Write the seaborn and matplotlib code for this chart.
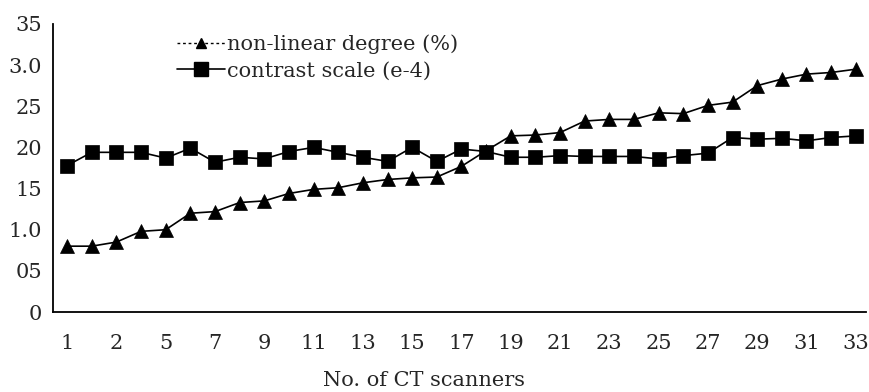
import matplotlib
matplotlib.use("Agg")
import matplotlib.pyplot as plt
import seaborn as sns
import pandas as pd
from matplotlib.lines import Line2D

scanners = list(range(1, 34))
nonlinear = [0.80, 0.80, 0.85, 0.98, 1.00, 1.20, 1.22, 1.33, 1.35, 1.44,
             1.49, 1.51, 1.57, 1.61, 1.63, 1.64, 1.77, 1.96, 2.14, 2.15,
             2.18, 2.32, 2.34, 2.34, 2.42, 2.41, 2.51, 2.55, 2.75, 2.83,
             2.89, 2.91, 2.95]
contrast = [1.78, 1.94, 1.94, 1.94, 1.87, 1.99, 1.82, 1.88, 1.86, 1.95,
            2.00, 1.94, 1.88, 1.83, 2.00, 1.83, 1.98, 1.95, 1.88, 1.88,
            1.90, 1.89, 1.89, 1.89, 1.86, 1.90, 1.93, 2.12, 2.10, 2.11,
            2.08, 2.12, 2.14]
xtick_pos = [1, 3, 5, 7, 9, 11, 13, 15, 17, 19, 21, 23, 25, 27, 29, 31, 33]
xtick_labels = ["1", "2", "5", "7", "9", "11", "13", "15", "17", "19", "21",
                "23", "25", "27", "29", "31", "33"]
ytick_pos = [0, 0.5, 1.0, 1.5, 2.0, 2.5, 3.0, 3.5]
ytick_labels = ["0", "05", "1.0", "15", "20", "25", "3.0", "35"]
series_names = ["non-linear degree (%)", "contrast scale (e-4)"]

df = pd.DataFrame({"x": scanners, "nl": nonlinear, "cs": contrast})

sns.set_style("white")
plt.rcParams["font.family"] = ["DejaVu Serif", "Liberation Serif"]

fig = plt.figure(figsize=(8.7, 3.92), dpi=100)
ax = fig.add_axes([0.061, 0.204, 0.934, 0.735])

sns.lineplot(data=df, x="x", y="nl", ax=ax, color="black", lw=1.2,
             marker="^", markersize=10, markeredgecolor="black", mew=0.5)
sns.lineplot(data=df, x="x", y="cs", ax=ax, color="black", lw=1.2,
             marker="s", markersize=10, markeredgecolor="black", mew=0.5)

ax.set_xlim(0.43, 33.4)
ax.set_ylim(0, 3.5)
ax.set_xticks(scanners, minor=True)
ax.set_xticks(xtick_pos)
ax.set_xticklabels(xtick_labels, fontsize=15)
ax.set_yticks(ytick_pos)
ax.set_yticklabels(ytick_labels, fontsize=15)
ax.tick_params(axis="x", which="both", direction="in", length=4, width=1, color="black", pad=16)
ax.tick_params(axis="y", direction="in", length=3, width=1, color="black", pad=8)
ax.set_xlabel("No. of CT scanners", fontsize=15, labelpad=13, x=0.456)
ax.set_ylabel("")
for s in ["top", "right"]:
    ax.spines[s].set_visible(False)
for s in ["left", "bottom"]:
    ax.spines[s].set_color("black")
    ax.spines[s].set_linewidth(1.3)

handles = [
    Line2D([], [], color="black", lw=1, ls=(0, (2, 2)), marker="^", markersize=7),
    Line2D([], [], color="black", lw=1.2, marker="s", markersize=10),
]
ax.legend(handles, series_names, loc="upper left", bbox_to_anchor=(0.14, 1.0),
          frameon=False, fontsize=15, handlelength=2.3, handletextpad=0.1,
          labelspacing=0.35, borderpad=0)

fig.savefig("out.png", dpi=100)
